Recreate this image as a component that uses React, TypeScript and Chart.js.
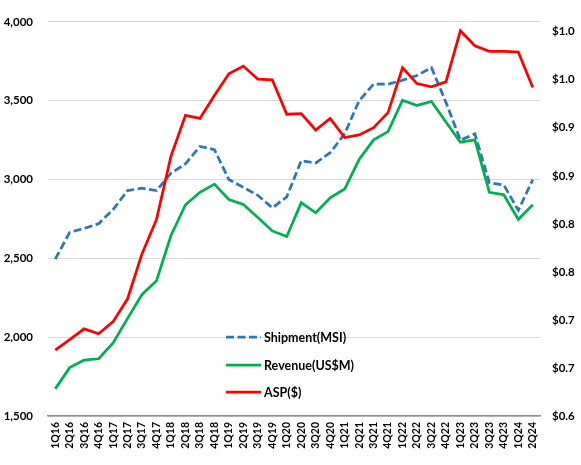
import React, { useEffect, useRef } from "react";
import { Chart, registerables } from "chart.js";

Chart.register(...registerables);

const categories = [
  "1Q16", "2Q16", "3Q16", "4Q16", "1Q17", "2Q17", "3Q17", "4Q17",
  "1Q18", "2Q18", "3Q18", "4Q18", "1Q19", "2Q19", "3Q19", "4Q19",
  "1Q20", "2Q20", "3Q20", "4Q20", "1Q21", "2Q21", "3Q21", "4Q21",
  "1Q22", "2Q22", "3Q22", "4Q22", "1Q23", "2Q23", "3Q23", "4Q23",
  "1Q24", "2Q24",
];

const shipment = [
  2495, 2665, 2690, 2720, 2810, 2930, 2945, 2930,
  3040, 3100, 3210, 3190, 3000, 2950, 2900, 2820,
  2890, 3120, 3105, 3170, 3290, 3500, 3605, 3605,
  3630, 3660, 3710, 3490, 3250, 3290, 2980, 2965,
  2805, 3000,
];

const revenue = [
  1672, 1807, 1855, 1863, 1963, 2119, 2271, 2358,
  2645, 2840, 2919, 2971, 2873, 2842, 2759, 2674,
  2639, 2853, 2789, 2884, 2940, 3127, 3252, 3304,
  3503, 3470, 3495, 3365, 3237, 3252, 2919, 2903,
  2747, 2840,
];

const asp = [
  0.6685, 0.6795, 0.6907, 0.6856, 0.6982, 0.722, 0.769, 0.8046,
  0.8704, 0.913, 0.9097, 0.9335, 0.9563, 0.9642, 0.9506, 0.9499,
  0.9141, 0.9148, 0.8977, 0.9097, 0.8898, 0.8926, 0.9001, 0.9158,
  0.9625, 0.946, 0.9427, 0.9478, 1.001, 0.9854, 0.9795, 0.9795,
  0.9788, 0.942,
];

const leftTicks = [1500, 2000, 2500, 3000, 3500, 4000];
const rightTicks = [0.6, 0.65, 0.7, 0.75, 0.8, 0.85, 0.9, 0.95, 1.0];

const seriesNames = ["Shipment(MSI)", "Revenue(US$M)", "ASP($)"];
const BLUE = "#2E75B6";
const GREEN = "#00B050";
const RED = "#FF0000";
const FONT = "Lato";

const legendPlugin = {
  id: "insideLegend",
  afterDatasetsDraw(chart: any) {
    const ctx = chart.ctx;
    const items = [
      { label: seriesNames[0], color: BLUE, dash: [8, 3.5] },
      { label: seriesNames[1], color: GREEN, dash: [] },
      { label: seriesNames[2], color: RED, dash: [] },
    ];
    const x0 = 226;
    const x1 = 261;
    const ys = [337, 365, 392];
    ctx.save();
    items.forEach((it, i) => {
      ctx.beginPath();
      ctx.setLineDash(it.dash);
      ctx.strokeStyle = it.color;
      ctx.lineWidth = 2.75;
      ctx.moveTo(x0, ys[i]);
      ctx.lineTo(x1, ys[i]);
      ctx.stroke();
      ctx.setLineDash([]);
      ctx.fillStyle = "#000";
      ctx.font = `bold 12.5px ${FONT}`;
      ctx.textBaseline = "middle";
      ctx.textAlign = "left";
      ctx.fillText(it.label, 264, ys[i] + 0.5);
    });
    ctx.restore();
  },
};

export default function App() {
  const ref = useRef<HTMLCanvasElement | null>(null);

  useEffect(() => {
    if (!ref.current) return;
    const chart = new Chart(ref.current, {
      type: "line",
      data: {
        labels: categories,
        datasets: [
          {
            label: seriesNames[2],
            data: asp,
            yAxisID: "y1",
            borderColor: RED,
            borderWidth: 2.75,
            pointRadius: 0,
            tension: 0,
            order: 0,
          },
          {
            label: seriesNames[1],
            data: revenue,
            yAxisID: "y",
            borderColor: GREEN,
            borderWidth: 2.75,
            pointRadius: 0,
            tension: 0,
            order: 1,
          },
          {
            label: seriesNames[0],
            data: shipment,
            yAxisID: "y",
            borderColor: BLUE,
            borderWidth: 2.75,
            borderDash: [8, 3.5],
            pointRadius: 0,
            tension: 0,
            order: 2,
          },
        ],
      },
      options: {
        responsive: false,
        animation: false,
        layout: { padding: { top: 15, left: 0, right: 0, bottom: 0 } },
        plugins: {
          legend: { display: false },
          tooltip: { enabled: false },
        },
        scales: {
          x: {
            type: "category",
            offset: true,
            grid: { display: false, drawTicks: false },
            border: { display: true, color: "#8C8C8C", width: 1.5 },
            ticks: {
              autoSkip: false,
              maxRotation: 90,
              minRotation: 90,
              padding: 6,
              color: "#000",
              font: { family: FONT, weight: "bold", size: 10.5 },
            },
            afterFit(scale: any) {
              scale.height = 49;
            },
          },
          y: {
            type: "linear",
            position: "left",
            min: 1500,
            max: 4000,
            grid: { color: "#D9D9D9", lineWidth: 1, drawTicks: false },
            border: { display: false },
            afterBuildTicks(scale: any) {
              scale.ticks = leftTicks.map((v) => ({ value: v }));
            },
            ticks: {
              padding: 15,
              color: "#000",
              font: { family: FONT, weight: "bold", size: 11.5 },
              callback: (v: any) => Number(v).toLocaleString("en-US"),
            },
            afterFit(scale: any) {
              scale.width = 48;
            },
          },
          y1: {
            type: "linear",
            position: "right",
            min: 0.6,
            max: 1.0102,
            grid: { display: false, drawTicks: false },
            border: { display: false },
            afterBuildTicks(scale: any) {
              scale.ticks = rightTicks.map((v) => ({ value: v }));
            },
            ticks: {
              padding: 12,
              color: "#000",
              font: { family: FONT, weight: "bold", size: 11.5 },
              callback: (v: any) =>
                "$" + (Math.round(Number(v) * 10 + 1e-6) / 10).toFixed(1),
            },
            afterFit(scale: any) {
              scale.width = 41;
            },
          },
        },
      },
      plugins: [legendPlugin],
    });
    return () => chart.destroy();
  }, []);

  return (
    <div
      style={{
        position: "absolute",
        left: 0,
        top: 0,
        width: 581,
        height: 465,
        background: "#fff",
      }}
    >
      <canvas ref={ref} width={581} height={465} />
    </div>
  );
}
